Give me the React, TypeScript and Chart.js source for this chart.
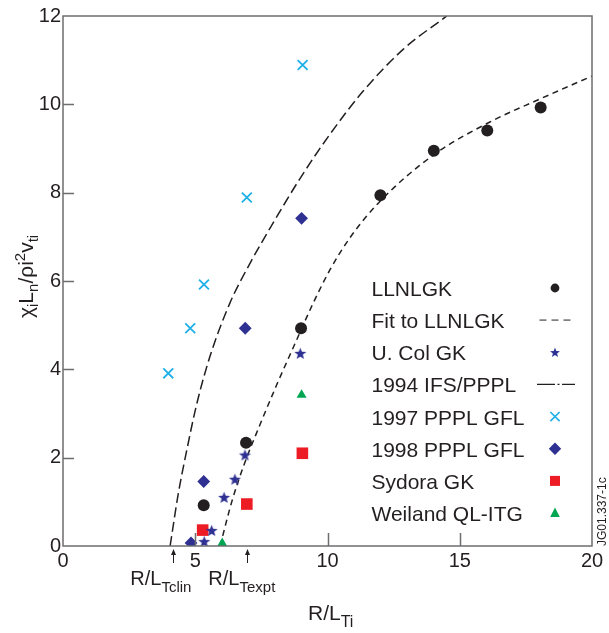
import React, { useEffect, useRef } from 'react';
import { Chart, registerables } from 'chart.js';

Chart.register(...registerables);

const FONT = "'Liberation Sans', Arial, Helvetica, sans-serif";
const TEXT = '#231f20';
const NAVY = '#2e3192';
const RED = '#ed1c24';
const GREEN = '#00a651';
const CYAN = '#1fb0e8';
const AXIS = '#6d6e71';

// Axis ranges / ticks
const xMin = 0, xMax = 20, xStep = 5;
const yMin = 0, yMax = 12, yStep = 2;
const xTickVals = [0, 5, 10, 15, 20];
const yTickVals = [0, 2, 4, 6, 8, 10, 12];

// Series
const llnlX = [5.32, 6.92, 9.0, 12.0, 14.02, 16.04, 18.06];
const llnlY = [0.92, 2.34, 4.93, 7.94, 8.95, 9.41, 9.93];

const fitX = [5.94, 6.38, 6.82, 7.45, 8.08, 8.71, 9.46, 10.09, 10.85, 11.98, 14.0, 16.14, 18.03, 20.0];
const fitY = [0.0, 1.0, 1.8, 2.75, 3.65, 4.5, 5.5, 6.25, 6.98, 7.8, 8.85, 9.6, 10.12, 10.64];

const ucolX = [5.34, 5.62, 6.09, 6.5, 6.88, 8.97];
const ucolY = [0.1, 0.35, 1.1, 1.51, 2.06, 4.36];

const ifsX = [4.05, 4.36, 4.68, 5.05, 5.56, 6.31, 7.07, 7.95, 8.96, 10.09, 11.35, 12.87, 14.51];
const ifsY = [0.0, 1.19, 2.17, 3.2, 4.3, 5.5, 6.4, 7.32, 8.32, 9.32, 10.3, 11.25, 12.0];

const gfl97X = [3.98, 4.81, 5.33, 6.95, 9.06];
const gfl97Y = [3.91, 4.93, 5.92, 7.89, 10.89];

const gfl98X = [4.84, 5.32, 6.89, 9.02];
const gfl98Y = [0.07, 1.46, 4.93, 7.42];

const sydoraX = [5.28, 6.95, 9.05];
const sydoraY = [0.36, 0.95, 2.1];

const weilandX = [6.02, 9.02];
const weilandY = [0.06, 3.42];

const seriesLabels = [
  'LLNLGK',
  'Fit to LLNLGK',
  'U. Col GK',
  '1994 IFS/PPPL',
  '1997 PPPL GFL',
  '1998 PPPL GFL',
  'Sydora GK',
  'Weiland QL-ITG',
];
const legendKinds = ['circle', 'dash', 'star', 'dashdot', 'cross', 'diamond', 'square', 'triangle'];

// Annotation positions on the x axis
const clinValue = 4.15;
const exptValue = 6.95;
const figureId = 'JG01.337-1c';

const pts = (xs: number[], ys: number[]) => xs.map((x, i) => ({ x, y: ys[i] }));

function makeStar(R: number, color: string): HTMLCanvasElement {
  const size = Math.ceil(2 * R + 2);
  const c = document.createElement('canvas');
  c.width = size;
  c.height = size;
  const g = c.getContext('2d')!;
  drawStar(g, size / 2, size / 2 + R * 0.08, R, color);
  return c;
}

function drawStar(g: CanvasRenderingContext2D, cx: number, cy: number, R: number, color: string) {
  g.beginPath();
  for (let k = 0; k < 10; k++) {
    const a = -Math.PI / 2 + (k * Math.PI) / 5;
    const r = k % 2 === 0 ? R : R * 0.42;
    const px = cx + r * Math.cos(a);
    const py = cy + r * Math.sin(a);
    if (k === 0) g.moveTo(px, py);
    else g.lineTo(px, py);
  }
  g.closePath();
  g.fillStyle = color;
  g.fill();
}

type Part = [string, number, number];
function drawRich(ctx: CanvasRenderingContext2D, parts: Part[], x: number, y: number) {
  let cx = x;
  for (const [t, size, dy] of parts) {
    ctx.font = `${size}px ${FONT}`;
    ctx.fillText(t, cx, y + dy);
    cx += ctx.measureText(t).width;
  }
}

function drawLegendMarker(ctx: CanvasRenderingContext2D, kind: string, x: number, y: number) {
  ctx.save();
  switch (kind) {
    case 'circle':
      ctx.beginPath();
      ctx.arc(x, y, 4.4, 0, Math.PI * 2);
      ctx.fillStyle = TEXT;
      ctx.fill();
      break;
    case 'dash':
      ctx.strokeStyle = '#808080';
      ctx.lineWidth = 1.6;
      ctx.setLineDash([7, 5]);
      ctx.beginPath();
      ctx.moveTo(539.5, y);
      ctx.lineTo(571, y);
      ctx.stroke();
      break;
    case 'star':
      drawStar(ctx, x, y + 0.5, 5.2, NAVY);
      break;
    case 'dashdot':
      ctx.strokeStyle = TEXT;
      ctx.lineWidth = 1.3;
      ctx.beginPath();
      ctx.moveTo(537, y);
      ctx.lineTo(555, y);
      ctx.moveTo(557.5, y);
      ctx.lineTo(559.5, y);
      ctx.moveTo(562, y);
      ctx.lineTo(575, y);
      ctx.stroke();
      break;
    case 'cross':
      ctx.strokeStyle = CYAN;
      ctx.lineWidth = 1.7;
      ctx.beginPath();
      ctx.moveTo(x - 4.6, y - 4.6);
      ctx.lineTo(x + 4.6, y + 4.6);
      ctx.moveTo(x + 4.6, y - 4.6);
      ctx.lineTo(x - 4.6, y + 4.6);
      ctx.stroke();
      break;
    case 'diamond':
      ctx.fillStyle = NAVY;
      ctx.beginPath();
      ctx.moveTo(x - 6.2, y);
      ctx.lineTo(x, y - 6.2);
      ctx.lineTo(x + 6.2, y);
      ctx.lineTo(x, y + 6.2);
      ctx.closePath();
      ctx.fill();
      break;
    case 'square':
      ctx.fillStyle = RED;
      ctx.fillRect(x - 5, y - 5, 10, 10);
      break;
    case 'triangle':
      ctx.fillStyle = GREEN;
      ctx.beginPath();
      ctx.moveTo(x, y - 5.5);
      ctx.lineTo(x + 4.8, y + 4);
      ctx.lineTo(x - 4.8, y + 4);
      ctx.closePath();
      ctx.fill();
      break;
  }
  ctx.restore();
}

const decorPlugin = {
  id: 'decor',
  afterDatasetsDraw(chart: any) {
    const { ctx, chartArea: a, scales } = chart;
    const xs = scales.x;
    const ys = scales.y;
    ctx.save();
    ctx.strokeStyle = AXIS;
    ctx.lineWidth = 1.5;
    ctx.strokeRect(a.left, a.top, a.right - a.left, a.bottom - a.top);
    ctx.beginPath();
    for (const v of xTickVals.slice(1, -1)) {
      const px = Math.round(xs.getPixelForValue(v)) + 0.5;
      ctx.moveTo(px, a.bottom);
      ctx.lineTo(px, a.bottom - 13);
    }
    for (const v of yTickVals.slice(1, -1)) {
      const py = Math.round(ys.getPixelForValue(v)) + 0.5;
      ctx.moveTo(a.left, py);
      ctx.lineTo(a.left + 11, py);
    }
    ctx.stroke();
    ctx.restore();
  },
  afterDraw(chart: any) {
    const { ctx, scales } = chart;
    const xs = scales.x;
    ctx.save();
    ctx.fillStyle = TEXT;
    ctx.textAlign = 'left';
    ctx.textBaseline = 'alphabetic';

    // Legend
    const datasets = chart.data.datasets;
    for (let i = 0; i < datasets.length; i++) {
      const cy = 288 + i * 32.15;
      ctx.fillStyle = TEXT;
      ctx.font = `21px ${FONT}`;
      ctx.fillText(datasets[i].label, 371.5, cy + 8);
      drawLegendMarker(ctx, legendKinds[i], 555, cy);
    }

    // X axis title
    ctx.fillStyle = TEXT;
    drawRich(ctx, [['R/L', 21, 0], ['Ti', 16, 7]], 308, 620);

    // Annotations below axis
    const clinPx = xs.getPixelForValue(clinValue);
    const exptPx = xs.getPixelForValue(exptValue);
    drawRich(ctx, [['R/L', 20, 0], ['Tclin', 15, 7]], clinPx - 42.5, 585);
    drawRich(ctx, [['R/L', 20, 0], ['Texpt', 15, 7]], exptPx - 38.5, 585);
    for (const px of [clinPx, exptPx]) {
      const x0 = Math.round(px) + 0.5;
      ctx.strokeStyle = TEXT;
      ctx.lineWidth = 1;
      ctx.beginPath();
      ctx.moveTo(x0, 553);
      ctx.lineTo(x0, 563);
      ctx.stroke();
      ctx.beginPath();
      ctx.moveTo(x0, 549);
      ctx.lineTo(x0 + 2.5, 555);
      ctx.lineTo(x0 - 2.5, 555);
      ctx.closePath();
      ctx.fill();
    }

    // Y axis title (rotated)
    ctx.save();
    ctx.translate(33, 318);
    ctx.rotate(-Math.PI / 2);
    drawRich(
      ctx,
      [
        ['\u03c7', 21, 0],
        ['i', 15, 5],
        ['L', 21, 0],
        ['n', 15, 5],
        ['/\u03c1i', 21, 0],
        ['2', 15, -8],
        ['v', 21, 0],
        ['ti', 15, 5],
      ],
      0,
      0
    );
    ctx.restore();

    // Figure id
    ctx.save();
    ctx.translate(606, 546);
    ctx.rotate(-Math.PI / 2);
    ctx.font = `12px ${FONT}`;
    ctx.fillText(figureId, 0, 0);
    ctx.restore();

    ctx.restore();
  },
};

export default function App() {
  const ref = useRef<HTMLCanvasElement>(null);
  useEffect(() => {
    const canvas = ref.current;
    if (!canvas) return;
    const starImg = makeStar(6.3, NAVY);
    const markerBase = { showLine: false, clip: 0, borderWidth: 0, order: 1 };
    const lineBase = {
      showLine: true,
      pointRadius: 0,
      pointHoverRadius: 0,
      borderColor: TEXT,
      borderWidth: 1.5,
      fill: false,
      cubicInterpolationMode: 'monotone',
      clip: 0,
      order: 5,
    };
    const chart = new Chart(canvas, {
      type: 'scatter',
      data: {
        datasets: [
          {
            ...markerBase,
            label: seriesLabels[0],
            data: pts(llnlX, llnlY),
            pointStyle: 'circle',
            pointRadius: 6,
            backgroundColor: TEXT,
            borderColor: TEXT,
          },
          {
            ...lineBase,
            label: seriesLabels[1],
            data: pts(fitX, fitY),
            borderDash: [6, 4.5],
          },
          {
            ...markerBase,
            label: seriesLabels[2],
            data: pts(ucolX, ucolY),
            pointStyle: starImg,
            pointRadius: 6,
            backgroundColor: NAVY,
            borderColor: NAVY,
          },
          {
            ...lineBase,
            label: seriesLabels[3],
            data: pts(ifsX, ifsY),
            borderDash: [10, 4.5],
          },
          {
            ...markerBase,
            label: seriesLabels[4],
            data: pts(gfl97X, gfl97Y),
            pointStyle: 'crossRot',
            pointRadius: 7,
            borderWidth: 1.8,
            backgroundColor: CYAN,
            borderColor: CYAN,
          },
          {
            ...markerBase,
            label: seriesLabels[5],
            data: pts(gfl98X, gfl98Y),
            pointStyle: 'rectRot',
            pointRadius: 6.4,
            backgroundColor: NAVY,
            borderColor: NAVY,
          },
          {
            ...markerBase,
            label: seriesLabels[6],
            data: pts(sydoraX, sydoraY),
            pointStyle: 'rect',
            pointRadius: 8.2,
            backgroundColor: RED,
            borderColor: RED,
          },
          {
            ...markerBase,
            label: seriesLabels[7],
            data: pts(weilandX, weilandY),
            pointStyle: 'triangle',
            pointRadius: 5.8,
            backgroundColor: GREEN,
            borderColor: GREEN,
          },
        ] as any,
      },
      options: {
        responsive: false,
        animation: false,
        devicePixelRatio: 1,
        layout: { padding: { left: 0, right: 17, top: 16, bottom: 0 } },
        plugins: {
          legend: { display: false },
          tooltip: { enabled: false },
          title: { display: false },
        },
        events: [],
        scales: {
          x: {
            type: 'linear',
            min: xMin,
            max: xMax,
            grid: { display: false, drawTicks: false },
            border: { display: false },
            ticks: {
              stepSize: xStep,
              padding: 3,
              color: TEXT,
              font: { family: FONT, size: 20 },
              maxRotation: 0,
              autoSkip: false,
            },
            afterFit: (s: any) => {
              s.height = 87;
            },
          },
          y: {
            type: 'linear',
            min: yMin,
            max: yMax,
            grid: { display: false, drawTicks: false },
            border: { display: false },
            ticks: {
              stepSize: yStep,
              padding: 2,
              color: TEXT,
              font: { family: FONT, size: 20 },
              autoSkip: false,
            },
            afterFit: (s: any) => {
              s.width = 63;
            },
          },
        },
      } as any,
      plugins: [decorPlugin],
    });
    return () => chart.destroy();
  }, []);

  return (
    <div style={{ position: 'absolute', left: 0, top: 0, width: 609, height: 633, background: '#fff' }}>
      <canvas ref={ref} width={609} height={633} style={{ display: 'block', width: 609, height: 633 }} />
    </div>
  );
}
